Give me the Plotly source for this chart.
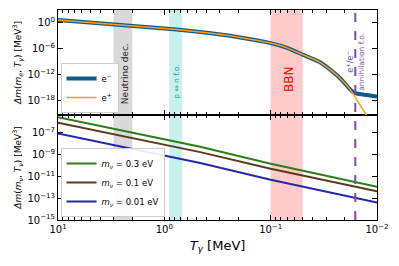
import numpy as np
import plotly.graph_objects as go

# ---- data ----
T_em = [10, 1, 0.46, 0.2, 0.1, 0.07, 0.05, 0.035, 0.0276, 0.0222, 0.018, 0.0167, 0.0155, 0.0125, 0.01]
log_em = [0.62, -1.35, -2.15, -3.35, -4.7, -5.8, -7.35, -9.0, -10.8, -12.8, -15.3, -16.0, -16.3, -16.65, -17.0]
T_ep = [10, 1, 0.46, 0.2, 0.1, 0.07, 0.05, 0.035, 0.0276, 0.0222, 0.018, 0.0161, 0.0144, 0.0129, 0.0121]
log_ep = [0.62, -1.35, -2.15, -3.35, -4.7, -5.8, -7.35, -9.0, -10.8, -12.8, -15.3, -17.1, -19.0, -20.8, -21.9]

T_nu = [10, 1, 0.46, 0.1, 0.05, 0.01]
log_nu_03 = [-5.57, -7.57, -8.27, -9.83, -10.45, -11.94]
log_nu_01 = [-6.07, -8.07, -8.77, -10.3, -10.92, -12.37]
log_nu_001 = [-7.06, -9.06, -9.76, -11.3, -11.92, -13.39]

band_nudec = (3.0, 2.0)
band_pn = (0.9, 0.68)
band_bbn = (0.1, 0.05)
T_ann = 0.016

top_ticks = [0, -6, -12, -18]
bot_ticks = [-7, -9, -11, -13, -15]
x_ticks = [1, 0, -1, -2]

FONT = "DejaVu Sans"

fig = go.Figure()

def pw(v):
    return [10.0 ** x for x in v]

def sup(v):
    return f"10<sup>{str(v).replace('-', '−')}</sup>"

fig.add_trace(go.Scatter(x=T_em, y=pw(log_em), mode="lines", name="e<sup>−</sup>",
                         line=dict(color="#0e5a88", width=4, shape="spline", smoothing=0.6),
                         xaxis="x2", yaxis="y2", legend="legend"))
fig.add_trace(go.Scatter(x=T_ep, y=pw(log_ep), mode="lines", name="e<sup>+</sup>",
                         line=dict(color="#ff9f1a", width=1.5, shape="spline", smoothing=0.6),
                         xaxis="x2", yaxis="y2", legend="legend"))

fig.add_trace(go.Scatter(x=T_nu, y=pw(log_nu_03), mode="lines", name="<i>m<sub>ν</sub></i> = 0.3 eV",
                         line=dict(color="#2f7d18", width=2), xaxis="x", yaxis="y", legend="legend2"))
fig.add_trace(go.Scatter(x=T_nu, y=pw(log_nu_01), mode="lines", name="<i>m<sub>ν</sub></i> = 0.1 eV",
                         line=dict(color="#5a3a1c", width=2), xaxis="x", yaxis="y", legend="legend2"))
fig.add_trace(go.Scatter(x=T_nu, y=pw(log_nu_001), mode="lines", name="<i>m<sub>ν</sub></i> = 0.01 eV",
                         line=dict(color="#2428a8", width=2), xaxis="x", yaxis="y", legend="legend2"))

# bands spanning both panels
for (a, b), col in [(band_nudec, "rgba(160,160,160,0.4)"),
                    (band_pn, "rgba(64,208,200,0.3)"),
                    (band_bbn, "rgba(255,90,90,0.32)")]:
    fig.add_shape(type="rect", xref="x", yref="paper", x0=a, x1=b, y0=0, y1=1,
                  fillcolor=col, line=dict(width=0), layer="below")

fig.add_shape(type="line", xref="x", yref="paper", x0=T_ann, x1=T_ann, y0=0, y1=1,
              line=dict(color="#7a4ea8", width=2, dash="dash"))

def lc(a, b):
    return (np.log10(a) + np.log10(b)) / 2

ann_common = dict(xref="x2", yref="paper", textangle=-90, showarrow=False,
                  xanchor="center", yanchor="middle")
fig.add_annotation(x=lc(*band_nudec) - 0.02, y=0.695, text="Neutrino dec.",
                   font=dict(family=FONT, size=9, color="#222"), **ann_common)
fig.add_annotation(x=lc(*band_pn), y=0.657, text="p ⇔ n f.o.",
                   font=dict(family=FONT, size=7.5, color="#2a9d8f"), **ann_common)
fig.add_annotation(x=lc(*band_bbn) - 0.02, y=0.671, text="BBN",
                   font=dict(family=FONT, size=12, color="red"), **ann_common)
fig.add_annotation(x=np.log10(T_ann), y=0.755, xshift=-5, text="e<sup>+</sup>/e<sup>−</sup>",
                   font=dict(family=FONT, size=8, color="#7a4ea8"), **ann_common)
fig.add_annotation(x=np.log10(T_ann), y=0.755, xshift=6, text="annihilation f.o.",
                   font=dict(family=FONT, size=7.5, color="#7a4ea8"), **ann_common)

axis_common = dict(showline=True, linecolor="black", linewidth=1, mirror="allticks",
                   ticks="inside", tickcolor="black", showgrid=False, zeroline=False,
                   tickfont=dict(family=FONT, size=10, color="black"))

xminor = dict(ticks="inside", ticklen=3, tickcolor="black", dtick="D1", showgrid=False)

fig.update_layout(
    width=399, height=266,
    margin=dict(l=58, r=22, t=10, b=46),
    paper_bgcolor="white", plot_bgcolor="white",
    font=dict(family=FONT, size=10, color="black"),
    xaxis=dict(type="log", range=[1, -2], anchor="y", ticklen=5,
               tickvals=[10.0 ** v for v in x_ticks],
               ticktext=[sup(v) for v in x_ticks],
               minor=xminor,
               title=dict(text="<i>T<sub>γ</sub></i> [MeV]", font=dict(family=FONT, size=13), standoff=6),
               **axis_common),
    xaxis2=dict(type="log", range=[1, -2], anchor="y2", matches="x", ticklen=5,
                showticklabels=False, tickvals=[10.0 ** v for v in x_ticks], minor=xminor,
                **axis_common),
    yaxis=dict(type="log", domain=[0, 0.5], range=[-15, -5.36], anchor="x", ticklen=5,
               tickvals=[10.0 ** v for v in bot_ticks],
               ticktext=[sup(v) for v in bot_ticks],
               title=dict(text="<i>Δm</i>(<i>m<sub>ν</sub></i>, <i>T<sub>ν</sub></i>) [MeV<sup>3</sup>]",
                          font=dict(family=FONT, size=9), standoff=4),
               **axis_common),
    yaxis2=dict(type="log", domain=[0.5, 1], range=[-21.25, 2.92], anchor="x2", ticklen=5,
                tickvals=[10.0 ** v for v in top_ticks],
                ticktext=[sup(v) for v in top_ticks],
                title=dict(text="<i>Δm</i>(<i>m<sub>e</sub></i>, <i>T<sub>γ</sub></i>) [MeV<sup>3</sup>]",
                           font=dict(family=FONT, size=9), standoff=4),
                **axis_common),
    legend=dict(x=0.008, y=0.51, xanchor="left", yanchor="bottom",
                bgcolor="rgba(255,255,255,0.9)", bordercolor="#cccccc", borderwidth=1,
                font=dict(family=FONT, size=8.5), itemwidth=30, tracegroupgap=0),
    legend2=dict(x=0.008, y=0.014, xanchor="left", yanchor="bottom",
                 bgcolor="rgba(255,255,255,0.9)", bordercolor="#cccccc", borderwidth=1,
                 font=dict(family=FONT, size=8.5), itemwidth=30, tracegroupgap=0),
)

fig.write_html("out.html", config={"displayModeBar": False},
               post_script="document.body.style.margin='0';")
